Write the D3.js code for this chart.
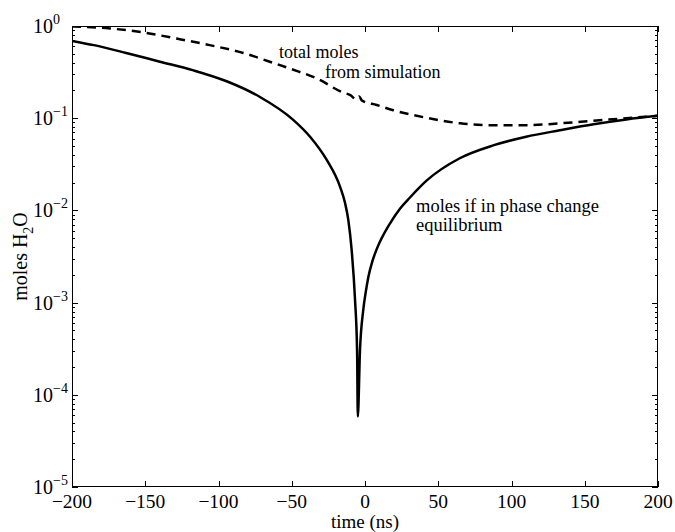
<!DOCTYPE html>
<html>
<head>
<meta charset="utf-8">
<script src="https://cdn.jsdelivr.net/npm/d3@7"></script>
<style>
  body { margin: 0; background: #fff; }
  text { font-family: "Liberation Serif", "Times New Roman", serif; fill: #000; }
</style>
</head>
<body>
<script>
// x axis ticks (ns) and y decades (log10 exponents)
var xTicks = [-200, -150, -100, -50, 0, 50, 100, 150, 200];
var yExponents = [0, -1, -2, -3, -4, -5];

// solid curve: moles if in phase change equilibrium
var equilTime  = [-200, -185, -163, -140, -117, -94, -72, -49, -37.5, -26, -17, -13.6, -11.4, -9.1, -6.8, -5.4, -4.9,
                  -3.4, -1.2, 0.5, 2.3, 5, 8, 17, 24, 30.7, 42, 65, 88, 110, 133, 156, 178.5, 200];
var equilMoles = [0.69, 0.62, 0.51, 0.41, 0.33, 0.25, 0.171, 0.096, 0.063, 0.035, 0.018, 0.012, 0.0079, 0.0037, 0.00107, 0.0003, 0.000058,
                  0.00031, 0.00083, 0.0013, 0.0019, 0.0028, 0.0038, 0.0072, 0.0105, 0.0138, 0.021, 0.037, 0.051, 0.063, 0.074, 0.086, 0.097, 0.106];

// dashed curve: total moles from simulation
var simTime  = [-200, -174, -151, -128.5, -106, -83, -65, -50, -33, -15, -10, -6, -4, -2, 8, 19.3, 42, 65, 88, 110, 133, 156, 178.5, 200];
var simMoles = [0.99, 0.94, 0.85, 0.73, 0.62, 0.51, 0.41, 0.34, 0.27, 0.19, 0.178, 0.16, 0.172, 0.155, 0.139, 0.122, 0.101, 0.088, 0.084, 0.084, 0.088, 0.094, 0.1, 0.106];

var width = 675, height = 532;
var margin = {top: 26, right: 17, bottom: 45, left: 72};
var plotW = width - margin.left - margin.right;
var plotH = height - margin.top - margin.bottom;

var svg = d3.select("body").append("svg")
  .attr("width", width)
  .attr("height", height);

var x = d3.scaleLinear().domain([-200, 200]).range([margin.left, margin.left + plotW]);
var y = d3.scaleLog().domain([1e-5, 1]).range([margin.top + plotH, margin.top]);

svg.append("clipPath").attr("id", "clip")
  .append("rect")
  .attr("x", margin.left).attr("y", margin.top)
  .attr("width", plotW).attr("height", plotH);

// minor ticks (2..9 in each decade)
var minorVals = [];
for (var e = -5; e < 0; e++) {
  for (var m = 2; m <= 9; m++) minorVals.push(m * Math.pow(10, e));
}

var ticks = svg.append("g").attr("stroke", "#000").attr("stroke-width", 1);

// x ticks, bottom and top, pointing in
xTicks.forEach(function(t){
  var px = Math.round(x(t)) + 0.5;
  ticks.append("line").attr("x1", px).attr("x2", px)
    .attr("y1", margin.top + plotH).attr("y2", margin.top + plotH - 6);
  ticks.append("line").attr("x1", px).attr("x2", px)
    .attr("y1", margin.top).attr("y2", margin.top + 6);
});

// y major ticks
yExponents.forEach(function(p){
  var py = Math.round(y(Math.pow(10, p))) + 0.5;
  ticks.append("line").attr("x1", margin.left).attr("x2", margin.left + 6).attr("y1", py).attr("y2", py);
  ticks.append("line").attr("x1", margin.left + plotW).attr("x2", margin.left + plotW - 6).attr("y1", py).attr("y2", py);
});

// y minor ticks
minorVals.forEach(function(v){
  var py = Math.round(y(v)) + 0.5;
  ticks.append("line").attr("x1", margin.left).attr("x2", margin.left + 3).attr("y1", py).attr("y2", py);
  ticks.append("line").attr("x1", margin.left + plotW).attr("x2", margin.left + plotW - 3).attr("y1", py).attr("y2", py);
});

// frame
svg.append("rect")
  .attr("x", margin.left + 0.5).attr("y", margin.top + 0.5)
  .attr("width", plotW - 1).attr("height", plotH - 1)
  .attr("fill", "none").attr("stroke", "#000").attr("stroke-width", 1);

// x tick labels
svg.append("g").selectAll("text").data(xTicks).enter().append("text")
  .attr("x", function(d){ return x(d); })
  .attr("y", margin.top + plotH + 21)
  .attr("text-anchor", "middle")
  .attr("font-size", 19.5)
  .text(function(d){ return d < 0 ? "\u2212" + Math.abs(d) : String(d); });

// y tick labels 10^p
var yLab = svg.append("g").selectAll("text").data(yExponents).enter().append("text")
  .attr("x", 33)
  .attr("y", function(p){ return y(Math.pow(10, p)) + 7; })
  .attr("font-size", 20);
yLab.append("tspan").text("10");
yLab.append("tspan")
  .attr("font-size", 14)
  .attr("dy", -9)
  .text(function(p){ return p < 0 ? "\u2212" + Math.abs(p) : String(p); });

// axis titles
svg.append("text")
  .attr("x", x(0))
  .attr("y", 527.5)
  .attr("text-anchor", "middle")
  .attr("font-size", 19)
  .text("time (ns)");

var yTitle = svg.append("text")
  .attr("transform", "translate(27," + (margin.top + plotH / 2) + ") rotate(-90)")
  .attr("text-anchor", "middle")
  .attr("font-size", 20);
yTitle.append("tspan").text("moles H");
yTitle.append("tspan").attr("font-size", 14).attr("dy", 6).text("2");
yTitle.append("tspan").attr("dy", -6).text("O");

// curves
var equilData = equilTime.map(function(t, i){ return [t, equilMoles[i]]; });
var simData = simTime.map(function(t, i){ return [t, simMoles[i]]; });

var line = d3.line()
  .x(function(d){ return x(d[0]); })
  .y(function(d){ return y(d[1]); })
  .curve(d3.curveMonotoneX);

var curves = svg.append("g").attr("clip-path", "url(#clip)");

curves.append("path")
  .datum(simData)
  .attr("d", line)
  .attr("fill", "none")
  .attr("stroke", "#000")
  .attr("stroke-width", 2.5)
  .attr("stroke-dasharray", "9,6");

curves.append("path")
  .datum(equilData)
  .attr("d", line)
  .attr("fill", "none")
  .attr("stroke", "#000")
  .attr("stroke-width", 2.5)
  .attr("stroke-linejoin", "round");

// annotations
svg.append("text").attr("x", 279).attr("y", 58).attr("font-size", 18).text("total moles");
svg.append("text").attr("x", 325).attr("y", 78).attr("font-size", 18).text("from simulation");

var note = svg.append("text").attr("x", 416).attr("y", 212).attr("font-size", 18.5);
note.append("tspan").attr("x", 416).text("moles if in phase change");
note.append("tspan").attr("x", 416).attr("dy", 18.5).text("equilibrium");
</script>
</body>
</html>
